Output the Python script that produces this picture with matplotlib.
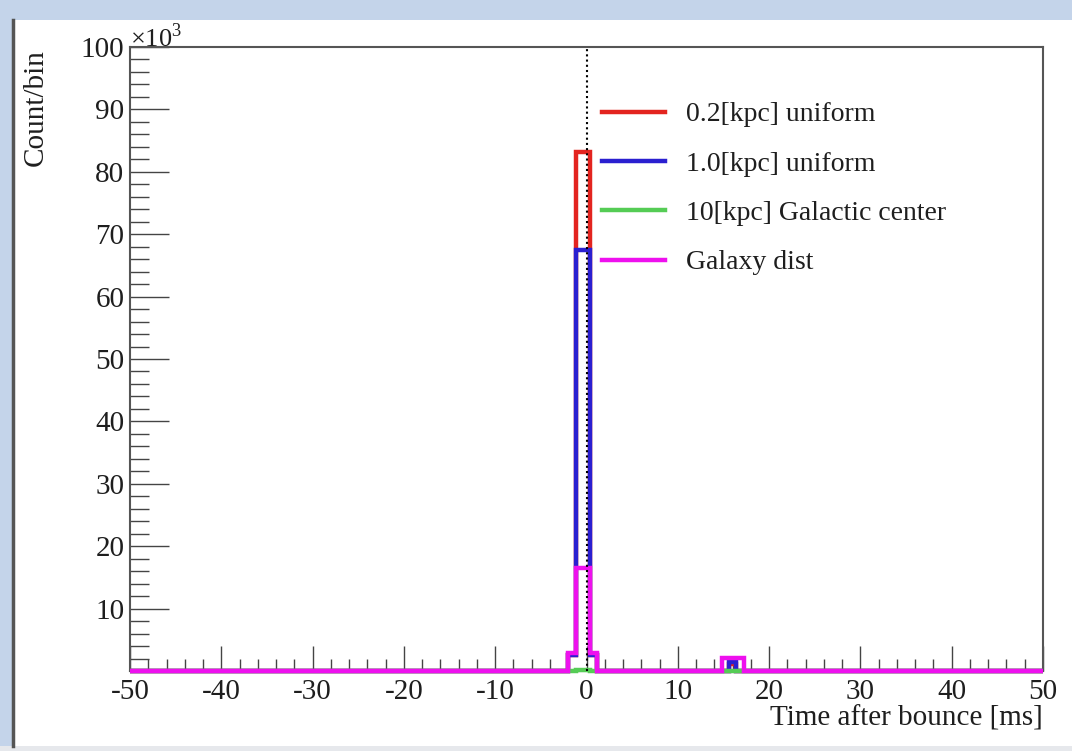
import numpy as np
import matplotlib
matplotlib.use("Agg")
import matplotlib.pyplot as plt
from matplotlib.patches import Rectangle
from matplotlib.ticker import MultipleLocator, FuncFormatter

plt.rcParams["font.family"] = ["Liberation Serif", "DejaVu Serif"]
plt.rcParams["mathtext.fontset"] = "custom"
plt.rcParams["mathtext.rm"] = "Liberation Serif"

# Histogram binning: 125 bins of 0.8 ms over [-50, 50] ms
t_min, t_max, n_bins = -50.0, 50.0, 125
edges = np.linspace(t_min, t_max, n_bins + 1)

# Non-empty bins per sample: bin centre [ms] -> counts [x10^3]
red_bins = {-1.6: 2.5, -0.8: 83.2, 0.0: 83.2, 0.8: 2.5, 16.0: 1.2}
blue_bins = {-1.6: 2.6, -0.8: 67.5, 0.0: 67.5, 0.8: 2.6, 16.0: 1.4}
green_bins = {-0.8: 0.2, 0.0: 0.2}
magenta_bins = {-1.6: 2.9, -0.8: 16.5, 0.0: 16.5, 0.8: 2.9,
                15.2: 2.1, 16.0: 2.1, 16.8: 2.1}

labels = ["0.2[kpc] uniform", "1.0[kpc] uniform",
          "10[kpc] Galactic center", "Galaxy dist"]
colors = ["#e3241f", "#2a1fd0", "#55cc55", "#ee10ee"]


def fill(bins):
    vals = np.zeros(n_bins)
    for centre, c in bins.items():
        vals[np.searchsorted(edges, centre) - 1] = c
    return vals


series = [fill(red_bins), fill(blue_bins), fill(green_bins), fill(magenta_bins)]

fig = plt.figure(figsize=(10.72, 7.51), dpi=100, facecolor="#c4d4ea")
# white slide panel with a dark left border
fig.patches.append(Rectangle((12 / 1072, 5 / 751), 1.0, (751 - 20 - 5) / 751,
                             transform=fig.transFigure, facecolor="white",
                             edgecolor="none", zorder=-2))
fig.patches.append(Rectangle((0, 0), 1.0, 5 / 751, transform=fig.transFigure,
                             facecolor="#e6e8ec", edgecolor="none", zorder=-2))
fig.lines.append(plt.Line2D([13 / 1072, 13 / 1072], [5 / 751, 731 / 751],
                            transform=fig.transFigure, color="#555555", lw=2.5,
                            zorder=-1))

ax = fig.add_axes([130 / 1072, 80 / 751, 913 / 1072, 624 / 751])
ax.set_facecolor("white")

for vals, col, lab in zip(series, colors, labels):
    ax.stairs(vals, edges, color=col, lw=3.2, label=lab, clip_on=False,
              baseline=None, zorder=3)

ax.axvline(0, color="black", lw=1.5, ls=(0, (1.0, 1.5)), zorder=5)

ax.set_xlim(t_min, t_max)
ax.set_ylim(0, 100)

ax.xaxis.set_major_locator(MultipleLocator(10))
ax.xaxis.set_minor_locator(MultipleLocator(2))
ax.yaxis.set_major_locator(MultipleLocator(10))
ax.yaxis.set_minor_locator(MultipleLocator(2))
ax.yaxis.set_major_formatter(FuncFormatter(lambda v, p: "" if v == 0 else f"{v:g}"))
ax.xaxis.set_major_formatter(FuncFormatter(lambda v, p: f"{v:g}"))

ax.tick_params(axis="both", which="both", direction="in", top=False,
               right=False, color="#444444", width=1.0, labelsize=21,
               labelcolor="#1e1e1e")
ax.tick_params(axis="y", which="major", length=28, pad=4)
ax.tick_params(axis="y", which="minor", length=14)
ax.tick_params(axis="x", which="major", length=18, pad=6)
ax.tick_params(axis="x", which="minor", length=9)

for s in ax.spines.values():
    s.set_color("#555555")
    s.set_linewidth(1.5)

leg = ax.legend(loc="upper left", bbox_to_anchor=(0.505, 0.930), frameon=False,
                fontsize=20, handlelength=2.25, handletextpad=0.75,
                labelspacing=0.86, borderaxespad=0)
for line in leg.get_lines():
    line.set_linewidth(3.2)
for t in leg.get_texts():
    t.set_color("#1e1e1e")

fig.text(1043 / 1072, 1 - 718 / 751, "Time after bounce [ms]", ha="right",
         va="center", fontsize=21, color="#1e1e1e")
fig.text(36 / 1072, 1 - 49 / 751, "Count/bin", rotation=90, ha="center",
         va="top", fontsize=21, color="#1e1e1e")
fig.text(130 / 1072, 1 - 52 / 751, "×10$^{3}$", ha="left", va="bottom",
         fontsize=19, color="#1e1e1e")

fig.savefig("out.png", dpi=100, facecolor=fig.get_facecolor())
